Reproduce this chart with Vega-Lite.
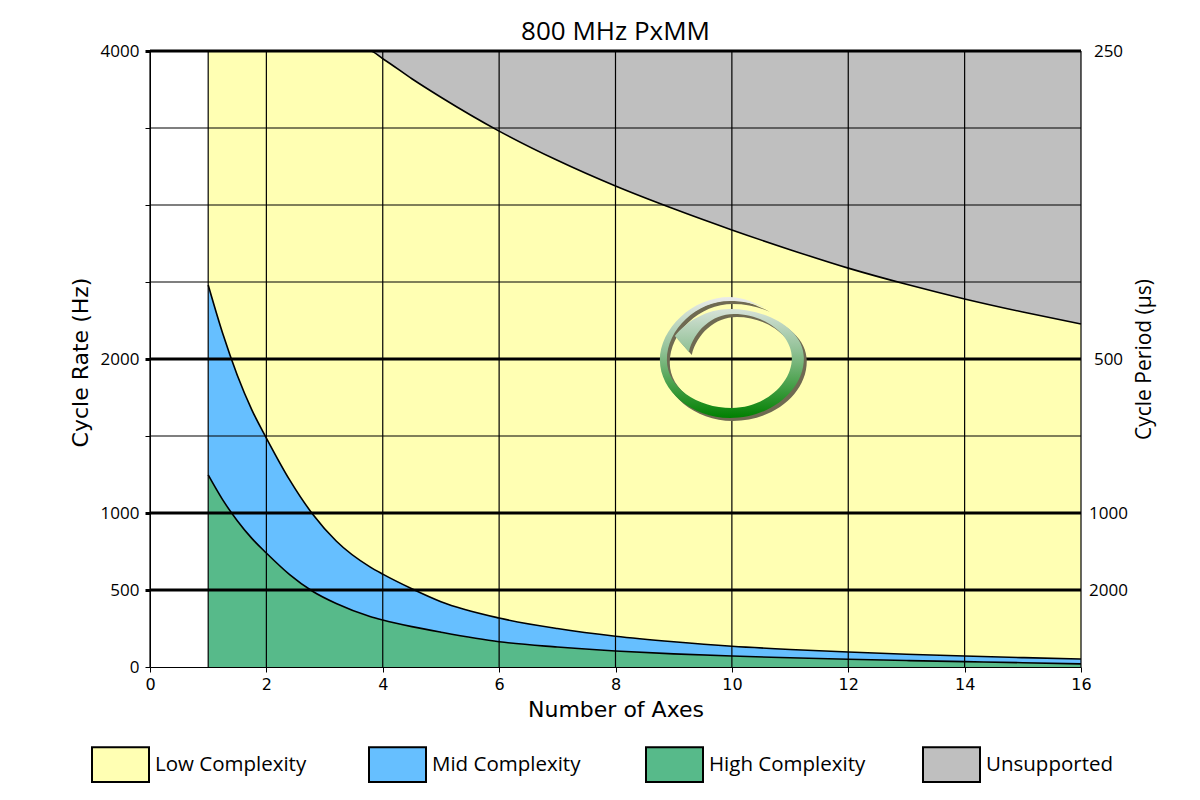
{
  "$schema": "https://vega.github.io/schema/vega-lite/v6.json",
  "width": 931,
  "height": 616,
  "autosize": "none",
  "padding": {"left": 150, "top": 51, "right": 119, "bottom": 133},
  "background": "white",
  "title": {"text": "800 MHz PxMM", "font": "Open Sans", "fontSize": 26, "fontWeight": "normal", "color": "black", "offset": -3},
  "config": {
    "view": {"stroke": null},
    "axis": {"domainColor": "black", "tickColor": "black", "labelColor": "black", "titleColor": "black", "grid": false}
  },
  "datasets": {
    "curves": [
      {"axes": 1, "high": 1247, "mid": 2480, "top": 4000},
      {"axes": 1.25, "high": 1085, "mid": 2165, "top": 4000},
      {"axes": 1.5, "high": 950, "mid": 1895, "top": 4000},
      {"axes": 1.75, "high": 835, "mid": 1670, "top": 4000},
      {"axes": 2, "high": 740, "mid": 1487, "top": 4000},
      {"axes": 2.4, "high": 600, "mid": 1215, "top": 4000},
      {"axes": 2.8, "high": 490, "mid": 990, "top": 4000},
      {"axes": 3.2, "high": 412, "mid": 818, "top": 4000},
      {"axes": 3.78, "high": 328, "mid": 650, "top": 4000},
      {"axes": 4, "high": 305, "mid": 603, "top": 3950},
      {"axes": 4.5, "high": 262, "mid": 508, "top": 3820},
      {"axes": 5, "high": 226, "mid": 424, "top": 3700},
      {"axes": 6, "high": 164, "mid": 318, "top": 3480},
      {"axes": 7, "high": 130, "mid": 250, "top": 3290},
      {"axes": 8, "high": 104, "mid": 200, "top": 3123},
      {"axes": 9, "high": 85, "mid": 164, "top": 2975},
      {"axes": 10, "high": 71, "mid": 135, "top": 2838},
      {"axes": 11, "high": 60, "mid": 114, "top": 2710},
      {"axes": 12, "high": 50, "mid": 97, "top": 2590},
      {"axes": 13, "high": 42, "mid": 83, "top": 2485},
      {"axes": 14, "high": 35, "mid": 71, "top": 2390},
      {"axes": 15, "high": 28, "mid": 61, "top": 2305},
      {"axes": 16, "high": 20, "mid": 52, "top": 2227}
    ],
    "hlines": [
      {"rate": 500, "weight": 3},
      {"rate": 1000, "weight": 3},
      {"rate": 1500, "weight": 1.2},
      {"rate": 2000, "weight": 3},
      {"rate": 2500, "weight": 1.2},
      {"rate": 3000, "weight": 1.2},
      {"rate": 3500, "weight": 1.2},
      {"rate": 4000, "weight": 3}
    ],
    "vlines": [
      {"axes": 0},
      {"axes": 1},
      {"axes": 2},
      {"axes": 4},
      {"axes": 6},
      {"axes": 8},
      {"axes": 10},
      {"axes": 12},
      {"axes": 14},
      {"axes": 16}
    ],
    "logo": [
      {"axes": 10, "rate": 2000}
    ],
    "logoShadow": [
      {"axes": 10.05, "rate": 1981}
    ]
  },
  "layer": [
    {
      "data": {"name": "curves"},
      "mark": {"type": "area", "interpolate": "monotone", "opacity": 1},
      "encoding": {
        "x": {
          "field": "axes",
          "type": "quantitative",
          "scale": {"domain": [0, 16], "nice": false},
          "axis": {"title": "Number of Axes", "titleFont": "DejaVu Sans", "titleFontSize": 22, "titleFontWeight": "normal", "titlePadding": 7, "labelFont": "DejaVu Sans", "labelFontSize": 16, "values": [0, 2, 4, 6, 8, 10, 12, 14, 16], "format": "d", "tickSize": 5, "labelPadding": 4, "labelFlush": false}
        },
        "y": {
          "field": "top",
          "type": "quantitative",
          "stack": null,
          "scale": {"domain": [0, 4000], "nice": false},
          "axis": {
            "orient": "left",
            "title": "Cycle Rate (Hz)",
            "titleFont": "DejaVu Sans",
            "titleFontSize": 22,
            "titleFontWeight": "normal",
            "titlePadding": 8,
            "titleY": 311,
            "labelFont": "Open Sans",
            "labelFontSize": 17,
            "values": [0, 500, 1000, 1500, 2000, 2500, 3000, 3500, 4000],
            "labelExpr": "indexof([0, 500, 1000, 2000, 4000], datum.value) >= 0 ? datum.label : ''",
            "format": "d",
            "tickSize": 5,
            "labelPadding": 6,
            "tickWidth": {"condition": {"test": "indexof([500, 1000, 2000, 4000], datum.value) >= 0", "value": 3}, "value": 1}
          }
        },
        "y2": {"datum": 4000},
        "color": {
          "datum": "Unsupported",
          "type": "nominal",
          "scale": {
            "domain": ["Low Complexity", "Mid Complexity", "High Complexity", "Unsupported"],
            "range": ["#ffffb3", "#66bfff", "#57ba8a", "#bfbfbf"]
          },
          "legend": {
            "orient": "none",
            "legendX": -59,
            "legendY": 684,
            "direction": "horizontal",
            "columns": 4,
            "gridAlign": "all",
            "title": null,
            "symbolType": "M-1,-0.61H1V0.61H-1Z",
            "symbolSize": 3249,
            "symbolStrokeColor": "black",
            "symbolStrokeWidth": 2,
            "symbolOpacity": 1,
            "labelFont": "Open Sans",
            "labelFontSize": 20.5,
            "labelColor": "black",
            "labelLimit": 300,
            "labelOffset": 5,
            "columnPadding": 53
          }
        }
      }
    },
    {
      "data": {"name": "curves"},
      "mark": {"type": "area", "interpolate": "monotone", "opacity": 1},
      "encoding": {
        "x": {"field": "axes", "type": "quantitative", "axis": null},
        "y": {"field": "mid", "type": "quantitative", "stack": null, "axis": null},
        "y2": {"field": "top"},
        "color": {"datum": "Low Complexity", "type": "nominal"}
      }
    },
    {
      "data": {"name": "curves"},
      "mark": {"type": "area", "interpolate": "monotone", "opacity": 1},
      "encoding": {
        "x": {"field": "axes", "type": "quantitative", "axis": null},
        "y": {"field": "high", "type": "quantitative", "stack": null, "axis": null},
        "y2": {"field": "mid"},
        "color": {"datum": "Mid Complexity", "type": "nominal"}
      }
    },
    {
      "data": {"name": "curves"},
      "mark": {"type": "area", "interpolate": "monotone", "opacity": 1},
      "encoding": {
        "x": {"field": "axes", "type": "quantitative", "axis": null},
        "y": {"field": "high", "type": "quantitative", "stack": null, "axis": null},
        "y2": {"datum": 0},
        "color": {"datum": "High Complexity", "type": "nominal"}
      }
    },
    {
      "data": {"name": "hlines"},
      "mark": {"type": "rule", "color": "black"},
      "encoding": {
        "x": {"datum": 0, "type": "quantitative", "axis": null},
        "x2": {"datum": 16},
        "y": {"field": "rate", "type": "quantitative", "axis": null},
        "strokeWidth": {"field": "weight", "type": "quantitative", "scale": null}
      }
    },
    {
      "data": {"name": "vlines"},
      "mark": {"type": "rule", "color": "black", "strokeWidth": 1.2},
      "encoding": {
        "x": {"field": "axes", "type": "quantitative", "axis": null},
        "y": {"datum": 0, "type": "quantitative", "axis": null},
        "y2": {"datum": 4000}
      }
    },
    {
      "data": {"name": "curves"},
      "mark": {"type": "line", "interpolate": "monotone", "color": "black", "strokeWidth": 1.6},
      "encoding": {
        "x": {"field": "axes", "type": "quantitative", "axis": null},
        "y": {"field": "top", "type": "quantitative", "axis": null}
      }
    },
    {
      "data": {"name": "curves"},
      "mark": {"type": "line", "interpolate": "monotone", "color": "black", "strokeWidth": 1.6},
      "encoding": {
        "x": {"field": "axes", "type": "quantitative", "axis": null},
        "y": {"field": "mid", "type": "quantitative", "axis": null}
      }
    },
    {
      "data": {"name": "curves"},
      "mark": {"type": "line", "interpolate": "monotone", "color": "black", "strokeWidth": 1.6},
      "encoding": {
        "x": {"field": "axes", "type": "quantitative", "axis": null},
        "y": {"field": "high", "type": "quantitative", "axis": null}
      }
    },
    {
      "data": {"name": "logoShadow"},
      "mark": {
        "type": "point",
        "filled": true,
        "opacity": 1,
        "size": 4,
        "color": "#6f6a52",
        "shape": "M35,-50 C20,-58 8,-62 -2,-62 C-40,-62 -72,-30 -72,1 C-72,32 -40,59 -2,59 C38,59 72,32 72,-1 C72,-30 35,-50 -2,-50 C-25,-50 -45,-38 -57,-23 L-43,-7 C-38,-28 -20,-45 2,-45 C32,-45 60,-25 60,-1 C60,25 32,49 0,49 C-35,49 -65,28 -65,1 C-65,-30 -35,-58 -2,-58 C12,-58 25,-55 35,-50 Z"
      },
      "encoding": {
        "x": {"field": "axes", "type": "quantitative", "axis": null},
        "y": {"field": "rate", "type": "quantitative", "axis": null}
      }
    },
    {
      "data": {"name": "logo"},
      "mark": {
        "type": "point",
        "filled": true,
        "opacity": 1,
        "size": 4,
        "fill": {
          "gradient": "linear",
          "x1": 0,
          "y1": 0,
          "x2": 0,
          "y2": 1,
          "stops": [
            {"offset": 0, "color": "#ebebeb"},
            {"offset": 0.45, "color": "#8fc094"},
            {"offset": 1, "color": "#008000"}
          ]
        },
        "shape": "M35,-50 C20,-58 8,-62 -2,-62 C-40,-62 -72,-30 -72,1 C-72,32 -40,59 -2,59 C38,59 72,32 72,-1 C72,-30 35,-50 -2,-50 C-25,-50 -45,-38 -57,-23 L-43,-7 C-38,-28 -20,-45 2,-45 C32,-45 60,-25 60,-1 C60,25 32,49 0,49 C-35,49 -65,28 -65,1 C-65,-30 -35,-58 -2,-58 C12,-58 25,-55 35,-50 Z"
      },
      "encoding": {
        "x": {"field": "axes", "type": "quantitative", "axis": null},
        "y": {"field": "rate", "type": "quantitative", "axis": null}
      }
    },
    {
      "data": {"name": "hlines"},
      "mark": {"type": "rule", "opacity": 0},
      "encoding": {
        "y": {
          "field": "rate",
          "type": "quantitative",
          "axis": {
            "orient": "right",
            "title": "Cycle Period (µs)",
            "titleFont": "Open Sans",
            "titleFontSize": 21,
            "titleFontWeight": "normal",
            "titleAngle": 270,
            "titlePadding": 27,
            "labelFont": "Open Sans",
            "labelFontSize": 17,
            "values": [500, 1000, 2000, 4000],
            "labelExpr": "1000000 / datum.value",
            "labelPadding": 27,
            "labelAlign": "center",
            "tickSize": 0,
            "domain": false
          }
        }
      }
    }
  ],
  "resolve": {"axis": {"y": "independent", "x": "independent"}}
}
